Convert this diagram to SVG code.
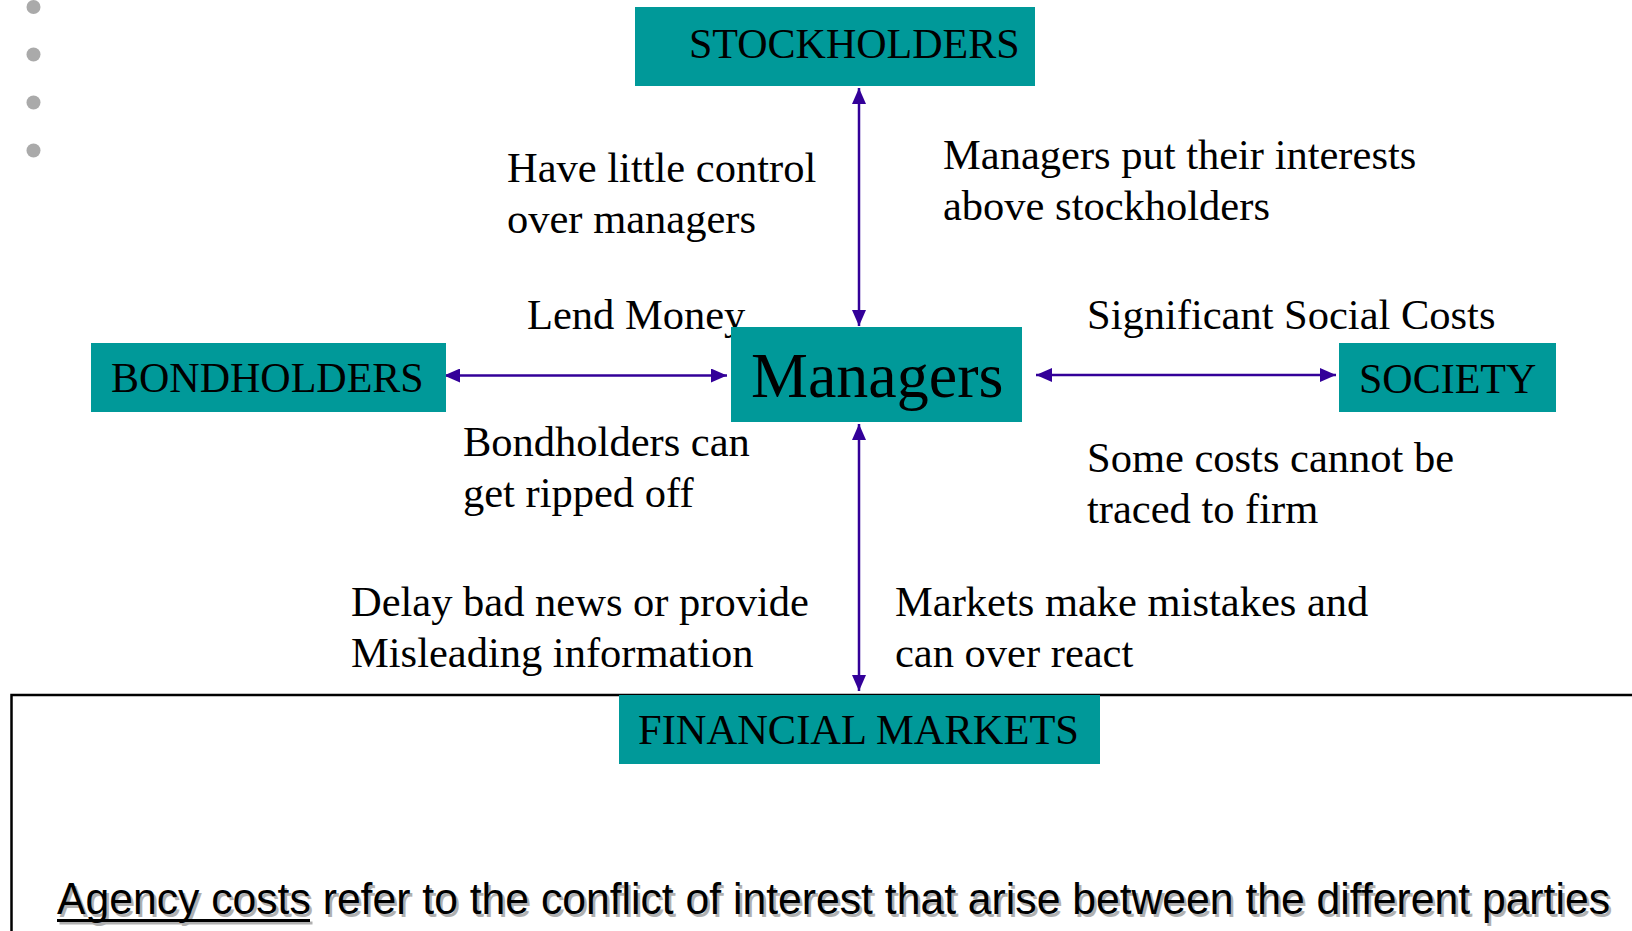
<svg xmlns="http://www.w3.org/2000/svg" width="1632" height="931" viewBox="0 0 1632 931">
  <style>
    .box { fill: #009999; }
    .node-text { font-family: "Liberation Serif", "Times New Roman", serif; font-size: 42px; fill: #000; }
    .big { font-size: 64px; }
    .label { font-family: "Liberation Serif", "Times New Roman", serif; font-size: 42.5px; fill: #000; }
    .conn { stroke: #330099; stroke-width: 2.5; fill: none; marker-start: url(#head); marker-end: url(#head); }
    .note { font-family: "Liberation Sans", Arial, sans-serif; font-size: 44px; }
  </style>
  <defs>
    <marker id="head" viewBox="0 0 16 14" refX="16" refY="7" markerWidth="16" markerHeight="14" markerUnits="userSpaceOnUse" orient="auto-start-reverse">
      <path d="M0,0 L16,7 L0,14 Z" fill="#330099"/>
    </marker>
  </defs>

  <rect width="1632" height="931" fill="#fff"/>

  <!-- bullet dots on the left edge -->
  <g id="bullets" fill="#aaaaaa">
    <circle cx="33.5" cy="7" r="7"/>
    <circle cx="33.5" cy="54.5" r="7"/>
    <circle cx="33.5" cy="102.5" r="7"/>
    <circle cx="33.5" cy="150.5" r="7"/>
  </g>

  <!-- frame of the lower text area -->
  <path id="frame" d="M11.5,931 L11.5,695 L1632,695" stroke="#000" stroke-width="2.5" fill="none"/>

  <!-- connectors -->
  <g id="connectors">
    <line class="conn" x1="859" y1="88" x2="859" y2="326"/>
    <line class="conn" x1="444" y1="375.5" x2="727" y2="375.5"/>
    <line class="conn" x1="1036" y1="375" x2="1336" y2="375"/>
    <line class="conn" x1="859" y1="424" x2="859" y2="691"/>
  </g>

  <!-- connector labels -->
  <g id="labels" class="label">
    <text x="507" y="182">Have little control</text>
    <text x="507" y="233">over managers</text>
    <text x="943" y="169">Managers put their interests</text>
    <text x="943" y="220">above stockholders</text>
    <text x="527" y="329">Lend Money</text>
    <text x="1087" y="329">Significant Social Costs</text>
    <text x="463" y="456">Bondholders can</text>
    <text x="463" y="507">get ripped off</text>
    <text x="1087" y="472">Some costs cannot be</text>
    <text x="1087" y="523">traced to firm</text>
    <text x="351" y="616">Delay bad news or provide</text>
    <text x="351" y="667">Misleading information</text>
    <text x="895" y="616">Markets make mistakes and</text>
    <text x="895" y="667">can over react</text>
  </g>

  <!-- nodes -->
  <g id="stockholders">
    <rect class="box" x="635" y="7" width="400" height="79"/>
    <text class="node-text" x="689" y="58">STOCKHOLDERS</text>
  </g>
  <g id="bondholders">
    <rect class="box" x="91" y="343" width="355" height="69"/>
    <text class="node-text" x="111" y="392">BONDHOLDERS</text>
  </g>
  <g id="managers">
    <rect class="box" x="731" y="327" width="291" height="95"/>
    <text class="node-text big" x="751" y="397">Managers</text>
  </g>
  <g id="society">
    <rect class="box" x="1339" y="343" width="217" height="69"/>
    <text class="node-text" x="1359" y="393">SOCIETY</text>
  </g>
  <g id="financial-markets">
    <rect class="box" x="619" y="695" width="481" height="69"/>
    <text class="node-text" x="638" y="744" textLength="441" lengthAdjust="spacingAndGlyphs">FINANCIAL MARKETS</text>
  </g>

  <!-- definition line with drop shadow -->
  <g id="definition" class="note">
    <g fill="#b0b0b0" transform="translate(2.5,2.5)">
      <text x="57" y="914" textLength="1553" lengthAdjust="spacingAndGlyphs">Agency costs refer to the conflict of interest that arise between the different parties</text>
      <rect x="57" y="919" width="253" height="3"/>
    </g>
    <g fill="#000">
      <text x="57" y="914" textLength="1553" lengthAdjust="spacingAndGlyphs">Agency costs refer to the conflict of interest that arise between the different parties</text>
      <rect x="57" y="919" width="253" height="3"/>
    </g>
  </g>
</svg>
